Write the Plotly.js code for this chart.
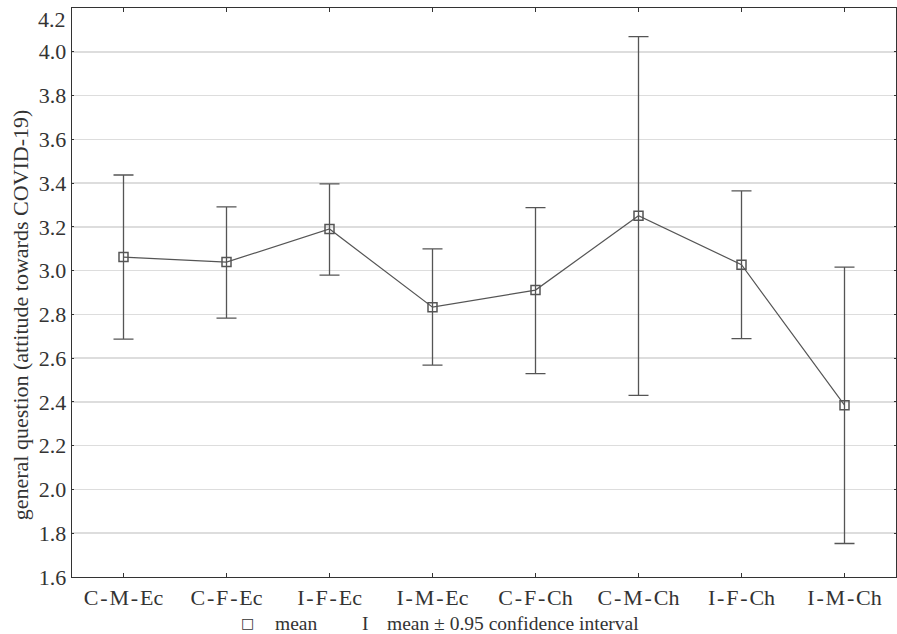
<!DOCTYPE html>
<html>
<head>
<meta charset="utf-8">
<script src="https://cdn.plot.ly/plotly-3.0.1.min.js"></script>
<style>html,body{margin:0;padding:0;background:#fff;}#chart{width:897px;height:634px;}</style>
</head>
<body>
<div id="chart"></div>
<script>
const categories = ["C-M-Ec", "C-F-Ec", "I-F-Ec", "I-M-Ec", "C-F-Ch", "C-M-Ch", "I-F-Ch", "I-M-Ch"];
const means = [3.062, 3.039, 3.190, 2.833, 2.911, 3.251, 3.027, 2.385];
const upper = [3.437, 3.291, 3.396, 3.099, 3.288, 4.069, 3.364, 3.016];
const lower = [2.687, 2.783, 2.979, 2.568, 2.529, 2.430, 2.689, 1.753];
const yTicks = [1.6, 1.8, 2.0, 2.2, 2.4, 2.6, 2.8, 3.0, 3.2, 3.4, 3.6, 3.8, 4.0, 4.2];

const errPlus = upper.map((u, i) => u - means[i]);
const errMinus = means.map((m, i) => m - lower[i]);
const ink = '#555555';
const font = {family: 'Liberation Serif, serif', size: 22, color: '#333333'};
const legFont = {family: 'Liberation Serif, serif', size: 19.5, color: '#333333'};
const spaced = s => s.split('-').join('\u200A-\u200A');

const trace = {
  x: categories.map((c, i) => i),
  y: means,
  type: 'scatter',
  mode: 'lines+markers',
  line: {color: ink, width: 1.2},
  marker: {symbol: 'square-open', size: 9, color: ink, line: {width: 1.5, color: ink}},
  error_y: {type: 'data', symmetric: false, array: errPlus, arrayminus: errMinus,
            color: ink, thickness: 1.3, width: 10},
  showlegend: false,
  hoverinfo: 'skip'
};

const innerTicks = yTicks.slice(0, -1);
const topTick = yTicks[yTicks.length - 1];

const layout = {
  width: 897, height: 634,
  margin: {l: 72, r: 1, t: 8, b: 57},
  paper_bgcolor: '#ffffff', plot_bgcolor: '#ffffff',
  font: font,
  xaxis: {
    range: [-0.5, 7.5],
    tickmode: 'array', tickvals: categories.map((c, i) => i), ticktext: categories.map(spaced),
    ticks: 'inside', ticklen: 4, tickcolor: '#333', tickwidth: 1,
    showline: true, linecolor: '#333', linewidth: 1.3, mirror: 'ticks',
    showgrid: false, zeroline: false,
    tickfont: font
  },
  yaxis: {
    range: [1.6, 4.2],
    tickmode: 'array', tickvals: innerTicks, ticktext: innerTicks.map(v => v.toFixed(1)),
    ticks: 'inside', ticklen: 2, tickcolor: '#333', tickwidth: 1,
    showline: true, linecolor: '#333', linewidth: 1.3, mirror: 'ticks',
    showgrid: true, gridcolor: '#dddddd', gridwidth: 1.5, zeroline: false,
    tickfont: font
  },
  annotations: [
    {text: topTick.toFixed(1), xref: 'paper', yref: 'y', x: 0, y: topTick, xshift: -4, yshift: 3,
     xanchor: 'right', yanchor: 'top', showarrow: false, font: font},
    {text: 'general question (attitude towards COVID-19)', textangle: -90,
     xref: 'paper', yref: 'paper', x: 0, y: 0.46, xshift: -52,
     xanchor: 'center', yanchor: 'middle', showarrow: false, font: font},
    {text: '\u25A1', xref: 'paper', yref: 'paper', x: 0, y: 0, xshift: 175, yshift: -46,
     xanchor: 'center', yanchor: 'middle', showarrow: false,
     font: {family: 'DejaVu Sans, sans-serif', size: 14, color: '#333'}},
    {text: 'mean', xref: 'paper', yref: 'paper', x: 0, y: 0, xshift: 201, yshift: -46,
     xanchor: 'left', yanchor: 'middle', showarrow: false, font: legFont},
    {text: 'I', xref: 'paper', yref: 'paper', x: 0, y: 0, xshift: 293, yshift: -46,
     xanchor: 'center', yanchor: 'middle', showarrow: false, font: legFont},
    {text: 'mean \u00B1 0.95 confidence interval', xref: 'paper', yref: 'paper', x: 0, y: 0, xshift: 313, yshift: -46,
     xanchor: 'left', yanchor: 'middle', showarrow: false, font: legFont}
  ]
};

Plotly.newPlot('chart', [trace], layout, {displayModeBar: false, staticPlot: true});
</script>
</body>
</html>
